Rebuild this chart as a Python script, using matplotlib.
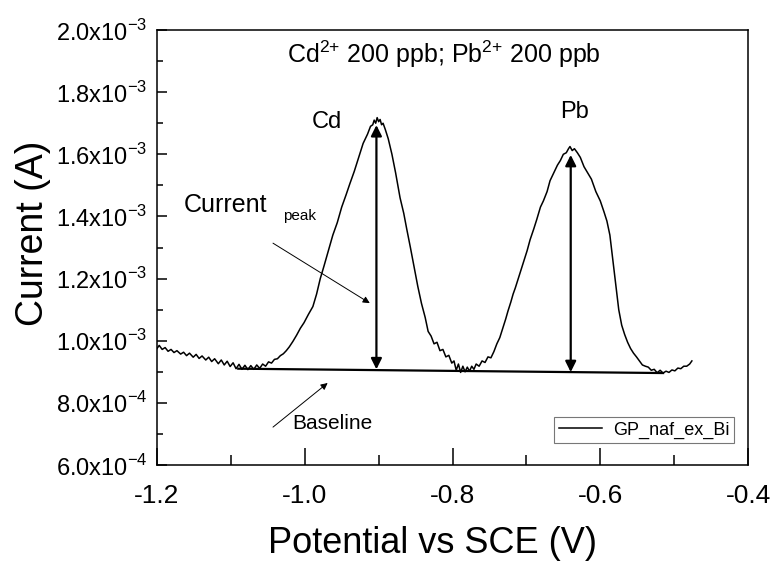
import matplotlib
matplotlib.use("Agg")
import matplotlib.pyplot as plt
import numpy as np

plt.rcParams['font.family'] = ['Liberation Sans', 'DejaVu Sans']
plt.rcParams['mathtext.fontset'] = 'custom'
plt.rcParams['mathtext.rm'] = 'Liberation Sans'
plt.rcParams['axes.unicode_minus'] = False

# potential (V) and current (mA)
potential = [-1.200, -1.197, -1.193, -1.189, -1.185, -1.181, -1.177, -1.173, -1.168, -1.164,
             -1.160, -1.156, -1.151, -1.147, -1.143, -1.139, -1.134, -1.130, -1.126, -1.122,
             -1.117, -1.113, -1.109, -1.105, -1.101, -1.097, -1.093, -1.089, -1.085, -1.081,
             -1.077, -1.073, -1.069, -1.065, -1.061, -1.057, -1.053, -1.049, -1.045, -1.041,
             -1.037, -1.033, -1.029, -1.025, -1.021, -1.016, -1.011, -1.006, -1.001, -0.995,
             -0.989, -0.984, -0.979, -0.974, -0.968, -0.962, -0.956, -0.950, -0.944, -0.939,
             -0.933, -0.927, -0.921, -0.915, -0.911, -0.908, -0.906, -0.904, -0.902, -0.900,
             -0.898, -0.896, -0.894, -0.891, -0.887, -0.882, -0.877, -0.871, -0.866, -0.862,
             -0.857, -0.853, -0.847, -0.842, -0.837, -0.833, -0.829, -0.825, -0.821, -0.817,
             -0.813, -0.809, -0.805, -0.801, -0.798, -0.795, -0.792, -0.789, -0.786, -0.783,
             -0.780, -0.777, -0.774, -0.771, -0.768, -0.764, -0.760, -0.756, -0.752, -0.748,
             -0.744, -0.740, -0.736, -0.732, -0.728, -0.725, -0.721, -0.718, -0.715, -0.711,
             -0.707, -0.703, -0.699, -0.695, -0.690, -0.686, -0.681, -0.677, -0.672, -0.668,
             -0.663, -0.658, -0.654, -0.650, -0.646, -0.643, -0.641, -0.638, -0.635, -0.631,
             -0.627, -0.622, -0.617, -0.612, -0.606, -0.600, -0.595, -0.591, -0.587, -0.583,
             -0.579, -0.575, -0.571, -0.567, -0.563, -0.559, -0.555, -0.551, -0.547, -0.543,
             -0.539, -0.535, -0.531, -0.527, -0.523, -0.519, -0.515, -0.511, -0.507, -0.503,
             -0.499, -0.495, -0.491, -0.487, -0.483, -0.479, -0.476]
current_mA = [0.975, 0.985, 0.972, 0.978, 0.966, 0.972, 0.962, 0.968, 0.957, 0.963,
              0.952, 0.960, 0.947, 0.956, 0.943, 0.951, 0.938, 0.947, 0.933, 0.942,
              0.926, 0.938, 0.922, 0.934, 0.917, 0.929, 0.910, 0.924, 0.908, 0.921,
              0.907, 0.920, 0.908, 0.922, 0.911, 0.925, 0.918, 0.932, 0.928, 0.940,
              0.942, 0.952, 0.958, 0.968, 0.980, 0.998, 1.018, 1.040, 1.058, 1.085,
              1.110, 1.150, 1.200, 1.240, 1.290, 1.340, 1.380, 1.430, 1.470, 1.505,
              1.545, 1.590, 1.635, 1.665, 1.690, 1.695, 1.710, 1.700, 1.718, 1.705,
              1.712, 1.695, 1.700, 1.680, 1.650, 1.600, 1.540, 1.460, 1.410, 1.360,
              1.300, 1.250, 1.175, 1.120, 1.075, 1.030, 1.015, 0.990, 0.995, 0.968,
              0.972, 0.948, 0.953, 0.928, 0.935, 0.905, 0.925, 0.898, 0.918, 0.900,
              0.915, 0.902, 0.918, 0.908, 0.925, 0.918, 0.935, 0.930, 0.948, 0.945,
              0.965, 0.990, 1.010, 1.040, 1.070, 1.095, 1.125, 1.150, 1.170, 1.200,
              1.230, 1.260, 1.290, 1.325, 1.360, 1.390, 1.430, 1.450, 1.480, 1.515,
              1.540, 1.565, 1.580, 1.600, 1.605, 1.618, 1.625, 1.612, 1.618, 1.605,
              1.590, 1.560, 1.540, 1.520, 1.480, 1.450, 1.415, 1.385, 1.340, 1.260,
              1.180, 1.100, 1.050, 1.020, 0.995, 0.975, 0.960, 0.948, 0.935, 0.922,
              0.918, 0.915, 0.905, 0.908, 0.897, 0.905, 0.896, 0.902, 0.898, 0.906,
              0.903, 0.912, 0.910, 0.918, 0.918, 0.925, 0.935]

baseline_x = [-1.090, -0.515]
baseline_mA = [0.910, 0.896]

cd_peak_x, cd_peak_mA, cd_base_mA = -0.903, 1.694, 0.908
pb_peak_x, pb_peak_mA, pb_base_mA = -0.640, 1.598, 0.899

y_ticks = [6e-4, 8e-4, 1.0e-3, 1.2e-3, 1.4e-3, 1.6e-3, 1.8e-3, 2.0e-3]
y_tick_labels = [r'6.0x10$^{\mathregular{-4}}$', r'8.0x10$^{\mathregular{-4}}$',
                 r'1.0x10$^{\mathregular{-3}}$', r'1.2x10$^{\mathregular{-3}}$',
                 r'1.4x10$^{\mathregular{-3}}$', r'1.6x10$^{\mathregular{-3}}$',
                 r'1.8x10$^{\mathregular{-3}}$', r'2.0x10$^{\mathregular{-3}}$']
x_ticks = [-1.2, -1.0, -0.8, -0.6, -0.4]
x_tick_labels = ['-1.2', '-1.0', '-0.8', '-0.6', '-0.4']

current = np.array(current_mA) * 1e-3

fig = plt.figure(figsize=(7.73, 5.64), dpi=100)
ax = fig.add_axes([0.2031, 0.1755, 0.7646, 0.7713])

ax.plot(potential, current, color='black', lw=1.1, label='GP_naf_ex_Bi')
ax.plot(baseline_x, np.array(baseline_mA) * 1e-3, color='black', lw=1.6)

# peak height arrows
for px, top, bot in [(cd_peak_x, cd_peak_mA, cd_base_mA), (pb_peak_x, pb_peak_mA, pb_base_mA)]:
    ax.annotate('', xy=(px, top * 1e-3), xytext=(px, bot * 1e-3),
                arrowprops=dict(arrowstyle='<|-|>', color='black', lw=1.6,
                                mutation_scale=16, shrinkA=0, shrinkB=0))

# pointer arrows
ax.annotate('', xy=(-0.912, 1.121e-3), xytext=(-1.043, 1.314e-3),
            arrowprops=dict(arrowstyle='-|>', color='black', lw=0.7,
                            mutation_scale=10, shrinkA=0, shrinkB=0))
ax.annotate('', xy=(-0.969, 8.64e-4), xytext=(-1.043, 7.22e-4),
            arrowprops=dict(arrowstyle='-|>', color='black', lw=0.7,
                            mutation_scale=10, shrinkA=0, shrinkB=0))

ax.text(-0.8115, 1.894e-3, r'Cd$^{\mathregular{2{+}}}$ 200 ppb; Pb$^{\mathregular{2{+}}}$ 200 ppb',
        fontsize=18, ha='center', va='baseline')
ax.text(-0.970, 1.684e-3, 'Cd', fontsize=17, ha='center', va='baseline')
ax.text(-0.6355, 1.717e-3, 'Pb', fontsize=17, ha='center', va='baseline')
ax.text(-1.1635, 1.414e-3, 'Current', fontsize=18, ha='left', va='baseline')
ax.text(-1.0294, 1.390e-3, 'peak', fontsize=11, ha='left', va='baseline')
ax.text(-0.963, 7.15e-4, 'Baseline', fontsize=15, ha='center', va='baseline')

ax.set_xlim(-1.2, -0.4)
ax.set_ylim(6e-4, 2e-3)
ax.set_xticks(x_ticks)
ax.set_xticklabels(x_tick_labels)
ax.set_yticks(y_ticks)
ax.set_yticklabels(y_tick_labels)
ax.set_xticks(np.arange(-1.1, -0.45, 0.2), minor=True)
ax.set_yticks(np.arange(7e-4, 2e-3, 2e-4), minor=True)

ax.tick_params(axis='x', which='major', direction='in', length=12, width=1.1,
               labelsize=19, pad=14, top=False)
ax.tick_params(axis='x', which='minor', direction='in', length=7, width=1.1, top=False)
ax.tick_params(axis='y', which='major', direction='in', length=7, width=1.1,
               labelsize=17, pad=7, right=False)
ax.tick_params(axis='y', which='minor', direction='in', length=4, width=1.1, right=False)
for s in ax.spines.values():
    s.set_linewidth(1.1)

fig.text(432 / 773, 1 - 553 / 564, 'Potential vs SCE (V)', fontsize=26,
         ha='center', va='baseline')
fig.text(33 / 773, 1 - 233 / 564, 'Current (A)', fontsize=27, rotation=90,
         ha='center', va='center')

leg = ax.legend(loc='lower right', bbox_to_anchor=(0.976, 0.05), borderaxespad=0,
                fontsize=13, frameon=True, fancybox=False, framealpha=1,
                edgecolor='#777777', handlelength=2.4, borderpad=0.25,
                handletextpad=0.6)
leg.get_frame().set_linewidth(0.8)

fig.savefig('out.png', dpi=100)
